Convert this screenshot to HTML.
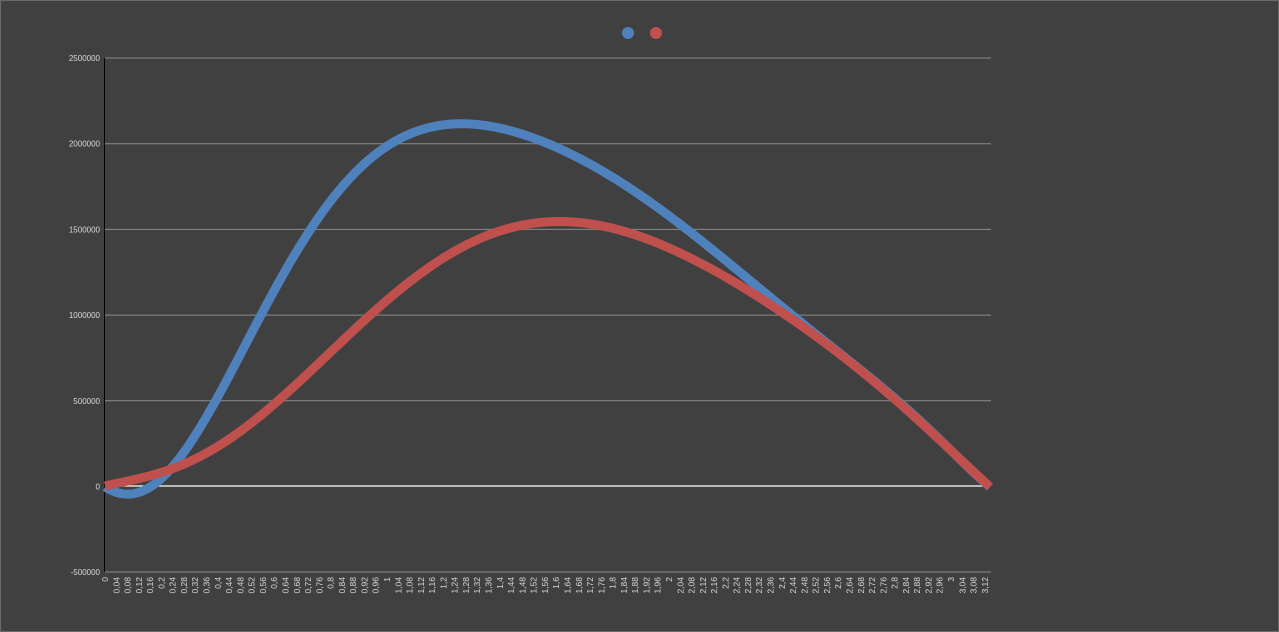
<!DOCTYPE html>
<html><head><meta charset="utf-8"><style>
html,body{margin:0;padding:0;background:#404040;}
body{width:1279px;height:632px;overflow:hidden;}
svg{display:block;font-family:"Liberation Sans",sans-serif;}
</style></head><body>
<svg id="s" width="1279" height="632" xmlns="http://www.w3.org/2000/svg">
<rect x="0.5" y="0.5" width="1278" height="631" fill="#404040" stroke="#6a6a6a"/>
</svg>
<script>
const s=document.getElementById('s');const NS='http://www.w3.org/2000/svg';
function el(t,a,txt){const e=document.createElementNS(NS,t);for(const k in a)e.setAttribute(k,a[k]);if(txt!==undefined)e.textContent=txt;s.appendChild(e);return e;}
const y0=486,step=85.7;
const vals=[2500000,2000000,1500000,1000000,500000,0,-500000];
vals.forEach((v,i)=>{const y=58+i*step;
 if(v!==0&&v!==-500000)el('line',{x1:105,x2:991,y1:y,y2:y,stroke:'#8a8a8a','stroke-width':1});
 el('text',{x:100,y:y+3,'text-anchor':'end','font-size':8,fill:'#d9d9d9'},String(v));});
el('line',{x1:105,x2:991,y1:572,y2:572,stroke:'#8a8a8a','stroke-width':1});
el('line',{x1:105,x2:986,y1:y0,y2:y0,stroke:'#ffffff','stroke-width':1.2});
el('line',{x1:104.5,x2:104.5,y1:58,y2:572,stroke:'#000','stroke-width':1});
for(let i=0;i<79;i++){const v=(i*0.04);let t=(Math.round(v*100)/100).toString().replace('.',',');
 const x=105+i*11.28;
 el('text',{transform:`translate(${x+3},577) rotate(-90)`,'text-anchor':'end','font-size':8.5,fill:'#d9d9d9'},t);}
function fit(pts,deg){
 const n=deg+1;const A=[];for(let i=0;i<n;i++){A.push(new Array(n+1).fill(0));}
 pts.forEach(p=>{const w=p[2]||1;const t=(p[0]-105)/885;const pw=[];for(let k=0;k<2*n;k++)pw.push(Math.pow(t,k));
  for(let i=0;i<n;i++){for(let j=0;j<n;j++)A[i][j]+=w*pw[i+j];A[i][n]+=w*pw[i]*(p[1]-486);}});
 for(let i=0;i<n;i++){let m=i;for(let r=i+1;r<n;r++)if(Math.abs(A[r][i])>Math.abs(A[m][i]))m=r;[A[i],A[m]]=[A[m],A[i]];
  for(let r=0;r<n;r++){if(r===i)continue;const f=A[r][i]/A[i][i];for(let c=i;c<=n;c++)A[r][c]-=f*A[i][c];}}
 const c=A.map((r,i)=>r[n]/r[i]);
 return x=>{const t=(x-105)/885;let v=0;for(let k=n-1;k>=0;k--)v=v*t+c[k];return v+486;};}
function poly(f){let d='';for(let x=105;x<=990;x+=2){d+=(x===105?'M':'L')+x+','+f(x).toFixed(2)+' ';}d+='L990,'+f(990).toFixed(2);return d;}
const tail=[[900,404,3],[930,430,3],[960,459,3],[975,473,3],[990,487,20]];
const blue=[[105,487,20],[130,493,3],[150,487,3],[170,470],[200,433],[227,380],[250,333],[273,290],[310,230],[353,177],[400,140],[467,123],[510,130],[550,145],[600,167],[640,196],[680,227],[720,255],[773,300],[830,342],[873,380,2]].concat(tail);
const red=[[105,486,20],[167,470],[217,447],[280,400],[367,317],[420,275],[467,243],[510,228],[557,222],[607,228],[650,241],[690,258],[720,272],[773,305],[830,347],[873,382,2]].concat(tail);
el('path',{d:poly(fit(blue,9)),fill:'none',stroke:'#4f81bd','stroke-width':9});
el('path',{d:poly(fit(red,7)),fill:'none',stroke:'#c0504d','stroke-width':9});
el('circle',{cx:628,cy:33,r:6,fill:'#4f81bd'});
el('circle',{cx:656,cy:33,r:6,fill:'#c0504d'});
</script>
</body></html>
